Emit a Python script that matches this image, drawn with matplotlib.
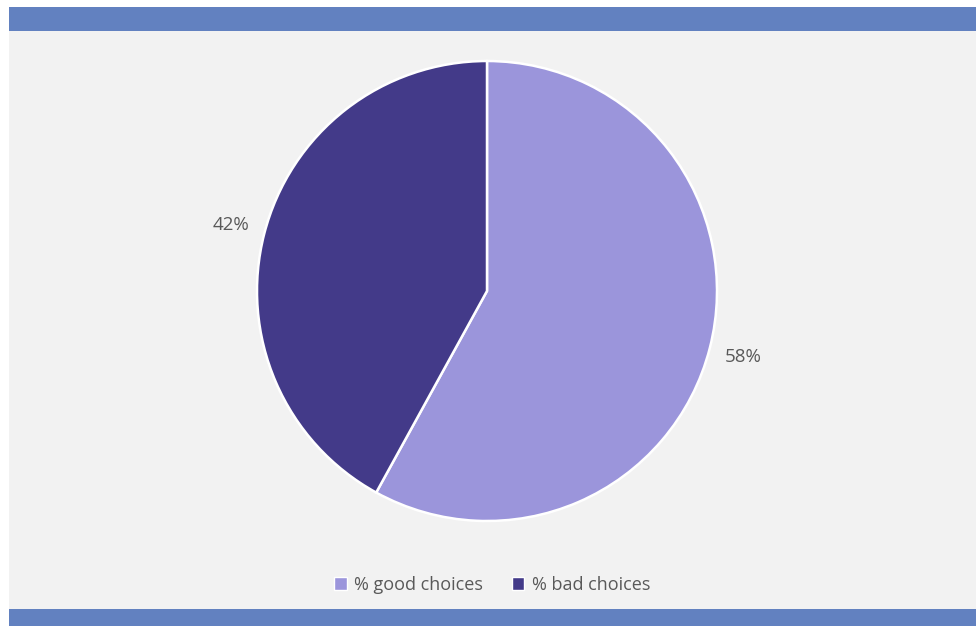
import matplotlib.pyplot as plt
from matplotlib.patches import Rectangle

labels = ['% good choices', '% bad choices']
shares = [58, 42]
colors = ['#9b95db', '#433a89']

plt.rcParams['font.family'] = ['Open Sans', 'DejaVu Sans']

W, H = 976, 626
fig = plt.figure(figsize=(W / 100, H / 100), dpi=100)
fig.patch.set_facecolor('white')

# gray panel with blue bands top and bottom (kept below the axes)
fig.patches.append(Rectangle((9 / W, 0), 1 - 9 / W, 1 - 7 / H, transform=fig.transFigure,
                             facecolor='#f2f2f2', edgecolor='none', zorder=-2))
fig.patches.append(Rectangle((9 / W, 1 - 31 / H), 1 - 9 / W, 24 / H, transform=fig.transFigure,
                             facecolor='#6281c0', edgecolor='none', zorder=-1))
fig.patches.append(Rectangle((9 / W, 0), 1 - 9 / W, 17 / H, transform=fig.transFigure,
                             facecolor='#6281c0', edgecolor='none', zorder=-1))

# pie: center (487, 291), radius 230 px
r = 230
ax = fig.add_axes([(487 - r) / W, 1 - (291 + r) / H, 2 * r / W, 2 * r / H])
ax.set_facecolor('none')
wedges, texts = ax.pie(shares, colors=colors, startangle=90, counterclock=False,
                       labels=[f'{v}%' for v in shares], labeldistance=1.15,
                       wedgeprops=dict(edgecolor='white', linewidth=1.8),
                       textprops=dict(color='#595959', fontsize=13.5))
for t in texts:
    t.set_ha('center')
    t.set_va('center')
ax.set_xlim(-1, 1)
ax.set_ylim(-1, 1)
ax.set_aspect('equal')

fig.legend(wedges, labels, loc='center', bbox_to_anchor=(492 / W, 1 - 585 / H),
           ncol=2, frameon=False, fontsize=13, labelcolor='#595959',
           handlelength=0.7, handleheight=0.7, handletextpad=0.4, columnspacing=1.6)
for h in fig.legends[0].legend_handles:
    h.set_edgecolor('white')
    h.set_linewidth(1)

fig.savefig('out.png', dpi=100, facecolor=fig.get_facecolor())
